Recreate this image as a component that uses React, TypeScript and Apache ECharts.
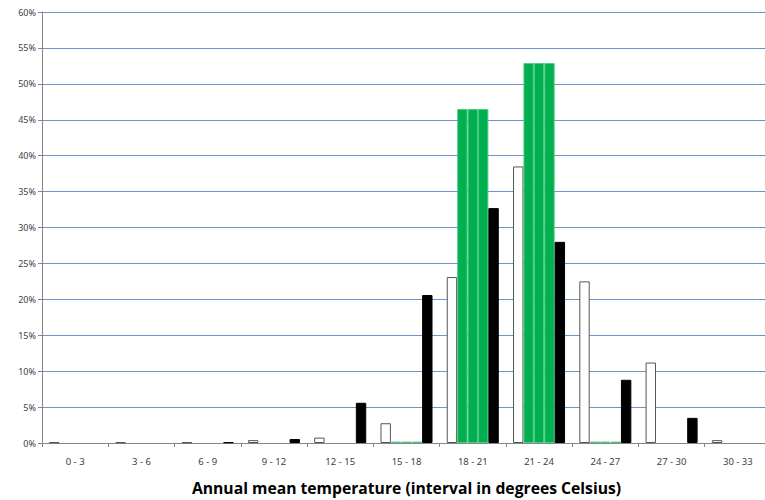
import React, { useEffect, useRef } from "react";
import * as echarts from "echarts";

const categories = ["0 - 3", "3 - 6", "6 - 9", "9 - 12", "12 - 15", "15 - 18", "18 - 21", "21 - 24", "24 - 27", "27 - 30", "30 - 33"];
const whiteValues = [0.1, 0.1, 0.1, 0.4, 0.75, 2.75, 23.1, 38.5, 22.5, 11.2, 0.4];
const greenValues = [null, null, null, null, null, 0.2, 46.5, 52.9, 0.2, null, null];
const blackValues = [null, null, 0.1, 0.55, 5.6, 20.6, 32.7, 28.0, 8.8, 3.5, null];
const yTicks = { min: 0, max: 60, interval: 5 };
const xTitle = "Annual mean temperature (interval in degrees Celsius)";

export default function App() {
  const ref = useRef<HTMLDivElement>(null);
  useEffect(() => {
    if (!ref.current) return;
    const chart = echarts.init(ref.current, null, { renderer: "svg" });
    const greenSeries = [0, 1, 2].map((i) => ({
      name: "green" + i,
      type: "bar",
      data: greenValues,
      barGap: "0%",
      barCategoryGap: "21.5%",
      itemStyle: { color: "#00B050", borderColor: "#4FCB80", borderWidth: 1 },
    }));
    chart.setOption({
      animation: false,
      backgroundColor: "#ffffff",
      grid: { left: 42, top: 12, width: 729, height: 431, containLabel: false, outerBoundsMode: "none" },
      xAxis: {
        type: "category",
        data: categories,
        name: xTitle,
        nameLocation: "middle",
        nameGap: 37,
        nameTextStyle: { fontFamily: "Open Sans", fontWeight: "bold", fontSize: 15.7, color: "#000" },
        axisLine: { lineStyle: { color: "#868686", width: 1 } },
        axisTick: { show: true, length: 4, lineStyle: { color: "#868686" } },
        axisLabel: { fontFamily: "Noto Sans", fontSize: 9.5, color: "#404040", margin: 13 },
      },
      yAxis: {
        type: "value",
        min: yTicks.min,
        max: yTicks.max,
        interval: yTicks.interval,
        axisLine: { show: true, lineStyle: { color: "#868686", width: 1 } },
        axisTick: { show: true, length: 4, lineStyle: { color: "#868686" } },
        axisLabel: { formatter: "{value}%", fontFamily: "Noto Sans", fontSize: 9, color: "#404040", margin: 6 },
        splitLine: { lineStyle: { color: "#6B95CC", width: 1 } },
      },
      series: [
        {
          name: "white",
          type: "bar",
          data: whiteValues,
          barGap: "0%",
          barCategoryGap: "21.5%",
          itemStyle: { color: "#ffffff", borderColor: "#555555", borderWidth: 1 },
        },
        ...greenSeries,
        {
          name: "black",
          type: "bar",
          data: blackValues,
          barGap: "0%",
          barCategoryGap: "21.5%",
          itemStyle: { color: "#000000", borderColor: "#000000", borderWidth: 1 },
        },
      ],
    });
    return () => chart.dispose();
  }, []);
  return <div ref={ref} style={{ width: 765, height: 500, position: "absolute", left: 0, top: 0 }} />;
}
